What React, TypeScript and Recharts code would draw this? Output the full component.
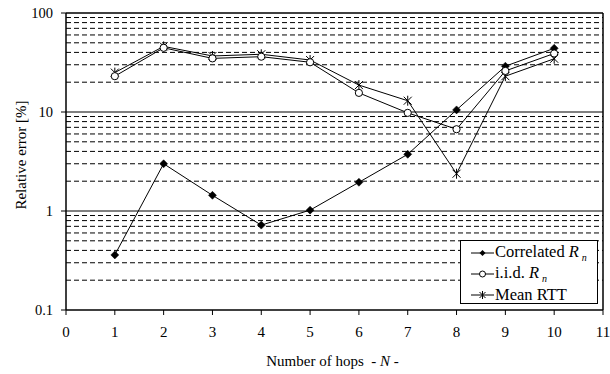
import React from 'react';
import { LineChart, Line, XAxis, YAxis, ReferenceLine, Label } from 'recharts';

const hops = [1, 2, 3, 4, 5, 6, 7, 8, 9, 10];
const correlated = [0.36, 3.0, 1.44, 0.72, 1.02, 1.95, 3.74, 10.5, 29, 44];
const iid = [23, 44.5, 34.8, 36.2, 31.8, 15.6, 9.8, 6.7, 26, 39];
const meanRtt = [25, 46, 36.8, 38.3, 33.5, 18.7, 13, 2.38, 23, 34.5];
const xTicks = [0, 1, 2, 3, 4, 5, 6, 7, 8, 9, 10, 11];
const yTicks = [0.1, 1, 10, 100];
const minorGrid = [0.2, 0.3, 0.4, 0.5, 0.6, 0.7, 0.8, 0.9, 2, 3, 4, 5, 6, 7, 8, 9, 20, 30, 40, 50, 60, 70, 80, 90];
const majorGrid = [1, 10];

const data = hops.map((h, i) => ({ h, c: correlated[i], d: iid[i], m: meanRtt[i] }));

const FONT = "'Liberation Serif', serif";

const Diamond = (props: any) => {
  const { cx, cy } = props;
  if (cx == null || cy == null) return null;
  return <polygon points={`${cx},${cy - 4} ${cx + 4},${cy} ${cx},${cy + 4} ${cx - 4},${cy}`} fill="#000" stroke="#000" strokeWidth={0.5} />;
};
const Circ = (props: any) => {
  const { cx, cy } = props;
  if (cx == null || cy == null) return null;
  return <circle cx={cx} cy={cy} r={3.6} fill="#fff" stroke="#000" strokeWidth={1} />;
};
const Star = (props: any) => {
  const { cx, cy } = props;
  if (cx == null || cy == null) return null;
  const s = 4;
  return (
    <g stroke="#000" strokeWidth={1}>
      <line x1={cx - s} y1={cy - s} x2={cx + s} y2={cy + s} />
      <line x1={cx - s} y1={cy + s} x2={cx + s} y2={cy - s} />
      <line x1={cx} y1={cy - s - 1} x2={cx} y2={cy + s + 1} />
    </g>
  );
};

const LegendBox = () => {
  const row = (marker: React.ReactNode, label: React.ReactNode) => (
    <div style={{ display: 'flex', alignItems: 'center', height: 21, whiteSpace: 'nowrap' }}>
      <svg width={23} height={12} style={{ marginRight: 1, flex: 'none' }}>
        <line x1={0} y1={6} x2={23} y2={6} stroke="#000" strokeWidth={1} />
        {marker}
      </svg>
      <span>{label}</span>
    </div>
  );
  const Rn = (
    <span>
      <i>R</i>
      <i style={{ fontSize: 10, position: 'relative', top: 4, marginLeft: 3 }}>n</i>
    </span>
  );
  return (
    <div style={{ position: 'absolute', left: 460, top: 240, width: 138, height: 64, border: '1px solid #000', background: '#fff', padding: '1px 0 0 10px', fontFamily: FONT, fontSize: 16.5, boxSizing: 'border-box', lineHeight: '21px' }}>
      {row(<polygon points="11.5,3 14.5,6 11.5,9 8.5,6" fill="#000" />, <span>Correlated {Rn}</span>)}
      {row(<circle cx={11.5} cy={6} r={3} fill="#fff" stroke="#000" />, <span>i.i.d. {Rn}</span>)}
      {row(
        <g stroke="#000" strokeWidth={1}>
          <line x1={8.5} y1={3} x2={14.5} y2={9} />
          <line x1={8.5} y1={9} x2={14.5} y2={3} />
          <line x1={11.5} y1={2} x2={11.5} y2={10} />
        </g>,
        <span>Mean RTT</span>
      )}
    </div>
  );
};

export default function App() {
  return (
    <div style={{ position: 'absolute', left: 0, top: 0, width: 610, height: 374, background: '#fff', fontFamily: FONT }}>
      <LineChart width={610} height={374} data={data} margin={{ top: 13, right: 7, left: 0, bottom: 0 }} style={{ fontFamily: FONT }}>
        {minorGrid.map((v) => (
          <ReferenceLine key={'g' + v} y={v} stroke="#000" strokeDasharray="5 3" strokeWidth={1} />
        ))}
        {majorGrid.map((v) => (
          <ReferenceLine key={'M' + v} y={v} stroke="#000" strokeWidth={1} />
        ))}
        <ReferenceLine y={100} stroke="#000" strokeWidth={1.5} />
        <ReferenceLine x={11} stroke="#000" strokeWidth={1.5} />
        <XAxis
          dataKey="h"
          type="number"
          domain={[0, 11]}
          ticks={xTicks}
          interval={0}
          height={64}
          axisLine={{ stroke: '#000', strokeWidth: 1.5 }}
          tickLine={{ stroke: '#000' }}
          tickSize={5}
          tick={{ fill: '#000', fontSize: 15, style: { fontFamily: FONT } }}
          tickMargin={11}
        >
          <Label
            content={(p: any) => {
              const vb = p.viewBox;
              return (
                <text x={vb.x + vb.width / 2 - 2} y={366} textAnchor="middle" style={{ fontFamily: FONT }} fontSize={15} fill="#000">
                  {'Number of hops \u00A0- '}<tspan fontStyle="italic">N</tspan>{' -'}
                </text>
              );
            }}
          />
        </XAxis>
        <YAxis
          scale="log"
          domain={[0.1, 100]}
          ticks={yTicks}
          interval={0}
          allowDataOverflow
          width={66}
          axisLine={{ stroke: '#000', strokeWidth: 1.5 }}
          tickLine={{ stroke: '#000' }}
          tickSize={5}
          tickFormatter={(v: number) => String(v)}
          tick={{ fill: '#000', fontSize: 14.5, style: { fontFamily: FONT } }}
          tickMargin={8}
        >
          <Label
            content={() => {
              const cx = 26;
              const cy = 155;
              return (
                <text x={cx} y={cy} transform={`rotate(-90 ${cx} ${cy})`} textAnchor="middle" style={{ fontFamily: FONT }} fontSize={15} fill="#000">
                  Relative error [%]
                </text>
              );
            }}
          />
        </YAxis>
        <Line dataKey="c" stroke="#000" strokeWidth={1} dot={<Diamond />} isAnimationActive={false} />
        <Line dataKey="m" stroke="#000" strokeWidth={1} dot={<Star />} isAnimationActive={false} />
        <Line dataKey="d" stroke="#000" strokeWidth={1} dot={<Circ />} isAnimationActive={false} />
      </LineChart>
      <LegendBox />
    </div>
  );
}
